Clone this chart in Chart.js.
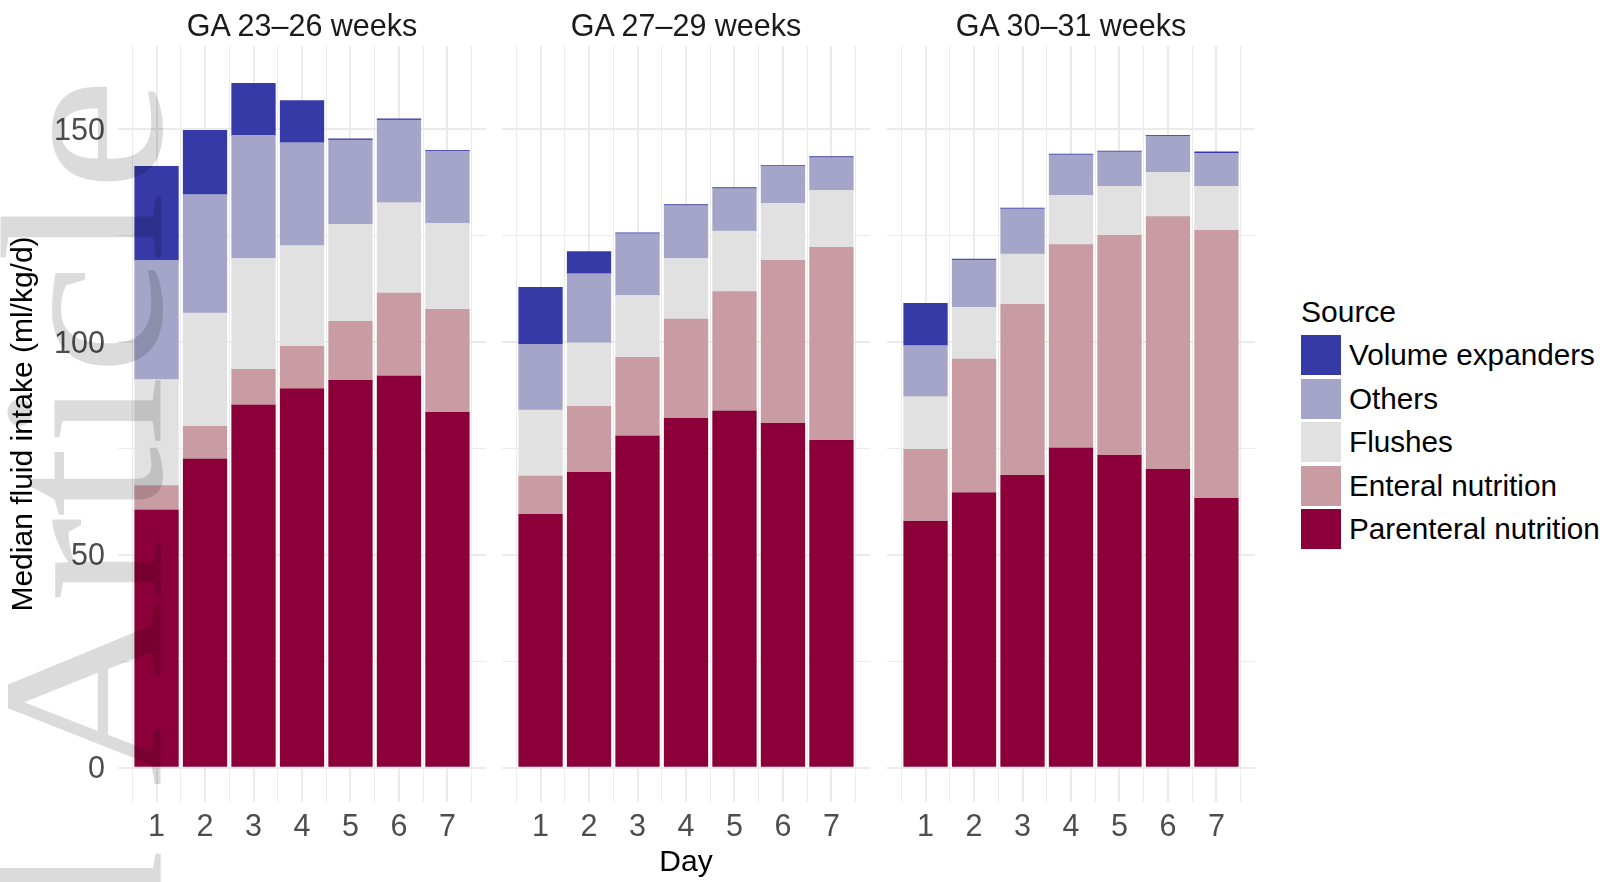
<!DOCTYPE html>
<html lang="en">
<head>
  <meta charset="UTF-8" />
  <title>Median fluid intake by source</title>
  <script src="https://cdn.jsdelivr.net/npm/chart.js"></script>
  <style>
    body { margin: 0; background: #fff; font-family: "Liberation Sans", Arial, sans-serif; }
    #wrap { position: relative; width: 1606px; height: 882px; overflow: hidden; }
    canvas { position: absolute; top: 0; }
    .strip { position: absolute; top: 7px; height: 36px; line-height: 36px; width: 368px; text-align: center; font-size: 30.5px; color: #1a1a1a; }
    #xtitle { position: absolute; left: 502px; width: 368px; top: 843px; line-height: 36px; text-align: center; font-size: 30px; color: #000; }
    #legend { position: absolute; left: 1301px; top: 294px; }
    #legend .ttl { font-size: 30px; line-height: 36px; height: 36px; margin-bottom: 5px; color: #000; }
    #legend .row { display: flex; align-items: center; height: 40px; margin-bottom: 3.5px; }
    #legend .key { width: 40px; height: 40px; margin-right: 8px; }
    #legend .lab { font-size: 29.7px; color: #000; }
  </style>
</head>
<body>
  <div id="wrap">
    <canvas id="c0" width="490" height="882" style="left:0px"></canvas>
    <canvas id="c1" width="368" height="882" style="left:502px"></canvas>
    <canvas id="c2" width="368" height="882" style="left:887px"></canvas>
    <div class="strip" style="left:118px">GA 23–26 weeks</div>
    <div class="strip" style="left:502px">GA 27–29 weeks</div>
    <div class="strip" style="left:887px">GA 30–31 weeks</div>
    <div id="xtitle">Day</div>
    <div id="legend"></div>
  </div>

  <script>
    // data (ml/kg/d per source, stacked)
    const days = [1, 2, 3, 4, 5, 6, 7]
    const panels = ['GA 23–26 weeks', 'GA 27–29 weeks', 'GA 30–31 weeks']

    const parenteral = [
      [60.5, 72.5, 85.2, 89.0, 91.0, 92.0, 83.5],
      [59.5, 69.4, 77.9, 82.1, 83.8, 80.9, 76.9],
      [57.9, 64.6, 68.7, 75.1, 73.4, 70.1, 63.3]
    ]
    const enteral = [
      [5.8, 7.7, 8.4, 10.0, 13.9, 19.5, 24.2],
      [9.0, 15.5, 18.5, 23.3, 28.1, 38.3, 45.4],
      [16.9, 31.4, 40.2, 47.8, 51.7, 59.4, 63.0]
    ]
    const flushes = [
      [24.9, 26.6, 26.1, 23.7, 22.8, 21.3, 20.2],
      [15.5, 14.9, 14.6, 14.3, 14.2, 13.4, 13.4],
      [12.4, 12.2, 11.8, 11.6, 11.5, 10.4, 10.3]
    ]
    const others = [
      [28.0, 27.9, 28.9, 24.2, 19.8, 19.4, 17.0],
      [15.5, 16.3, 14.5, 12.4, 10.0, 8.7, 7.7],
      [12.0, 11.1, 10.6, 9.5, 8.1, 8.5, 7.8]
    ]
    const volumeExpanders = [
      [22.1, 15.1, 12.2, 9.9, 0.3, 0.3, 0.2],
      [13.4, 5.2, 0.2, 0.2, 0.2, 0.2, 0.2],
      [9.9, 0.2, 0.2, 0.2, 0.2, 0.2, 0.3]
    ]

    const yLabels = [0, 50, 100, 150]
    const yGrid = [0, 25, 50, 75, 100, 125, 150]

    // legend order (top to bottom); stacking goes the other way
    const sources = ['Volume expanders', 'Others', 'Flushes', 'Enteral nutrition', 'Parenteral nutrition']
    const sourceData = [volumeExpanders, others, flushes, enteral, parenteral]
    const colors = ['#353aa6', '#a5a5c9', '#e1e1e1', '#c99ca3', '#8b0039']

    const xGrid = days.flatMap(d => [d - 0.5, d]).concat([days[days.length - 1] + 0.5])

    const gridColor = '#ebebeb'
    const tickFont = { family: 'Liberation Sans', size: 30.5 }

    const watermark = {
      id: 'watermark',
      afterDraw(chart) {
        const c = chart.ctx
        c.save()
        c.translate(161, 78)
        c.rotate(-Math.PI / 2)
        c.scale(1.1, 1)
        c.font = '232px "Liberation Serif"'
        c.fillStyle = 'rgba(0,0,0,0.14)'
        c.textAlign = 'right'
        c.textBaseline = 'alphabetic'
        c.fillText('Accepted Article', 0, 0)
        c.restore()
      }
    }

    function makePanel(p) {
      const first = p === 0
      const datasets = []
      for (let s = sources.length - 1; s >= 0; s--) {
        datasets.push({
          label: sources[s],
          data: days.map((d, i) => ({ x: d, y: sourceData[s][p][i] })),
          backgroundColor: colors[s],
          borderWidth: 0,
          barThickness: 'flex',
          categoryPercentage: 0.9,
          barPercentage: 1.0
        })
      }

      new Chart(document.getElementById('c' + p), {
        type: 'bar',
        data: { datasets: datasets },
        plugins: first ? [watermark] : [],
        options: {
          responsive: false,
          animation: false,
          layout: { padding: { top: 46, bottom: 30, left: 0, right: first ? 4 : 0 } },
          plugins: { legend: { display: false }, tooltip: { enabled: false }, title: { display: false } },
          scales: {
            x: {
              type: 'linear',
              stacked: true,
              offset: false,
              min: 0.205,
              max: 7.795,
              afterBuildTicks: s => { s.ticks = xGrid.map(v => ({ value: v })) },
              afterFit: s => { s.height = 50 },
              ticks: {
                autoSkip: false,
                maxRotation: 0,
                padding: 7,
                color: '#4d4d4d',
                font: tickFont,
                callback: v => Number.isInteger(v) ? String(v) : ''
              },
              grid: {
                offset: false,
                drawTicks: false,
                color: gridColor,
                lineWidth: ctx => Number.isInteger(ctx.tick.value) ? 2 : 1
              },
              border: { display: false }
            },
            y: {
              stacked: true,
              min: -8.1,
              max: 169.6,
              afterBuildTicks: s => { s.ticks = yGrid.map(v => ({ value: v })) },
              afterFit: s => { s.width = first ? 118 : 0 },
              ticks: {
                display: first,
                autoSkip: false,
                padding: 13,
                labelOffset: 2,
                color: '#4d4d4d',
                font: tickFont,
                callback: v => yLabels.includes(v) ? String(v) : ''
              },
              grid: {
                drawTicks: false,
                color: gridColor,
                lineWidth: ctx => yLabels.includes(ctx.tick.value) ? 2 : 1
              },
              border: { display: false },
              title: {
                display: first,
                text: 'Median fluid intake (ml/kg/d)',
                color: '#000',
                font: { family: 'Liberation Sans', size: 30 },
                padding: { top: 6, bottom: 0 }
              }
            }
          }
        }
      })
    }

    panels.forEach((name, p) => makePanel(p))

    // legend
    const leg = document.getElementById('legend')
    let html = '<div class="ttl">Source</div>'
    sources.forEach((s, i) => {
      html += '<div class="row"><div class="key" style="background:' + colors[i] + '"></div><div class="lab">' + s + '</div></div>'
    })
    leg.innerHTML = html
  </script>
</body>
</html>
